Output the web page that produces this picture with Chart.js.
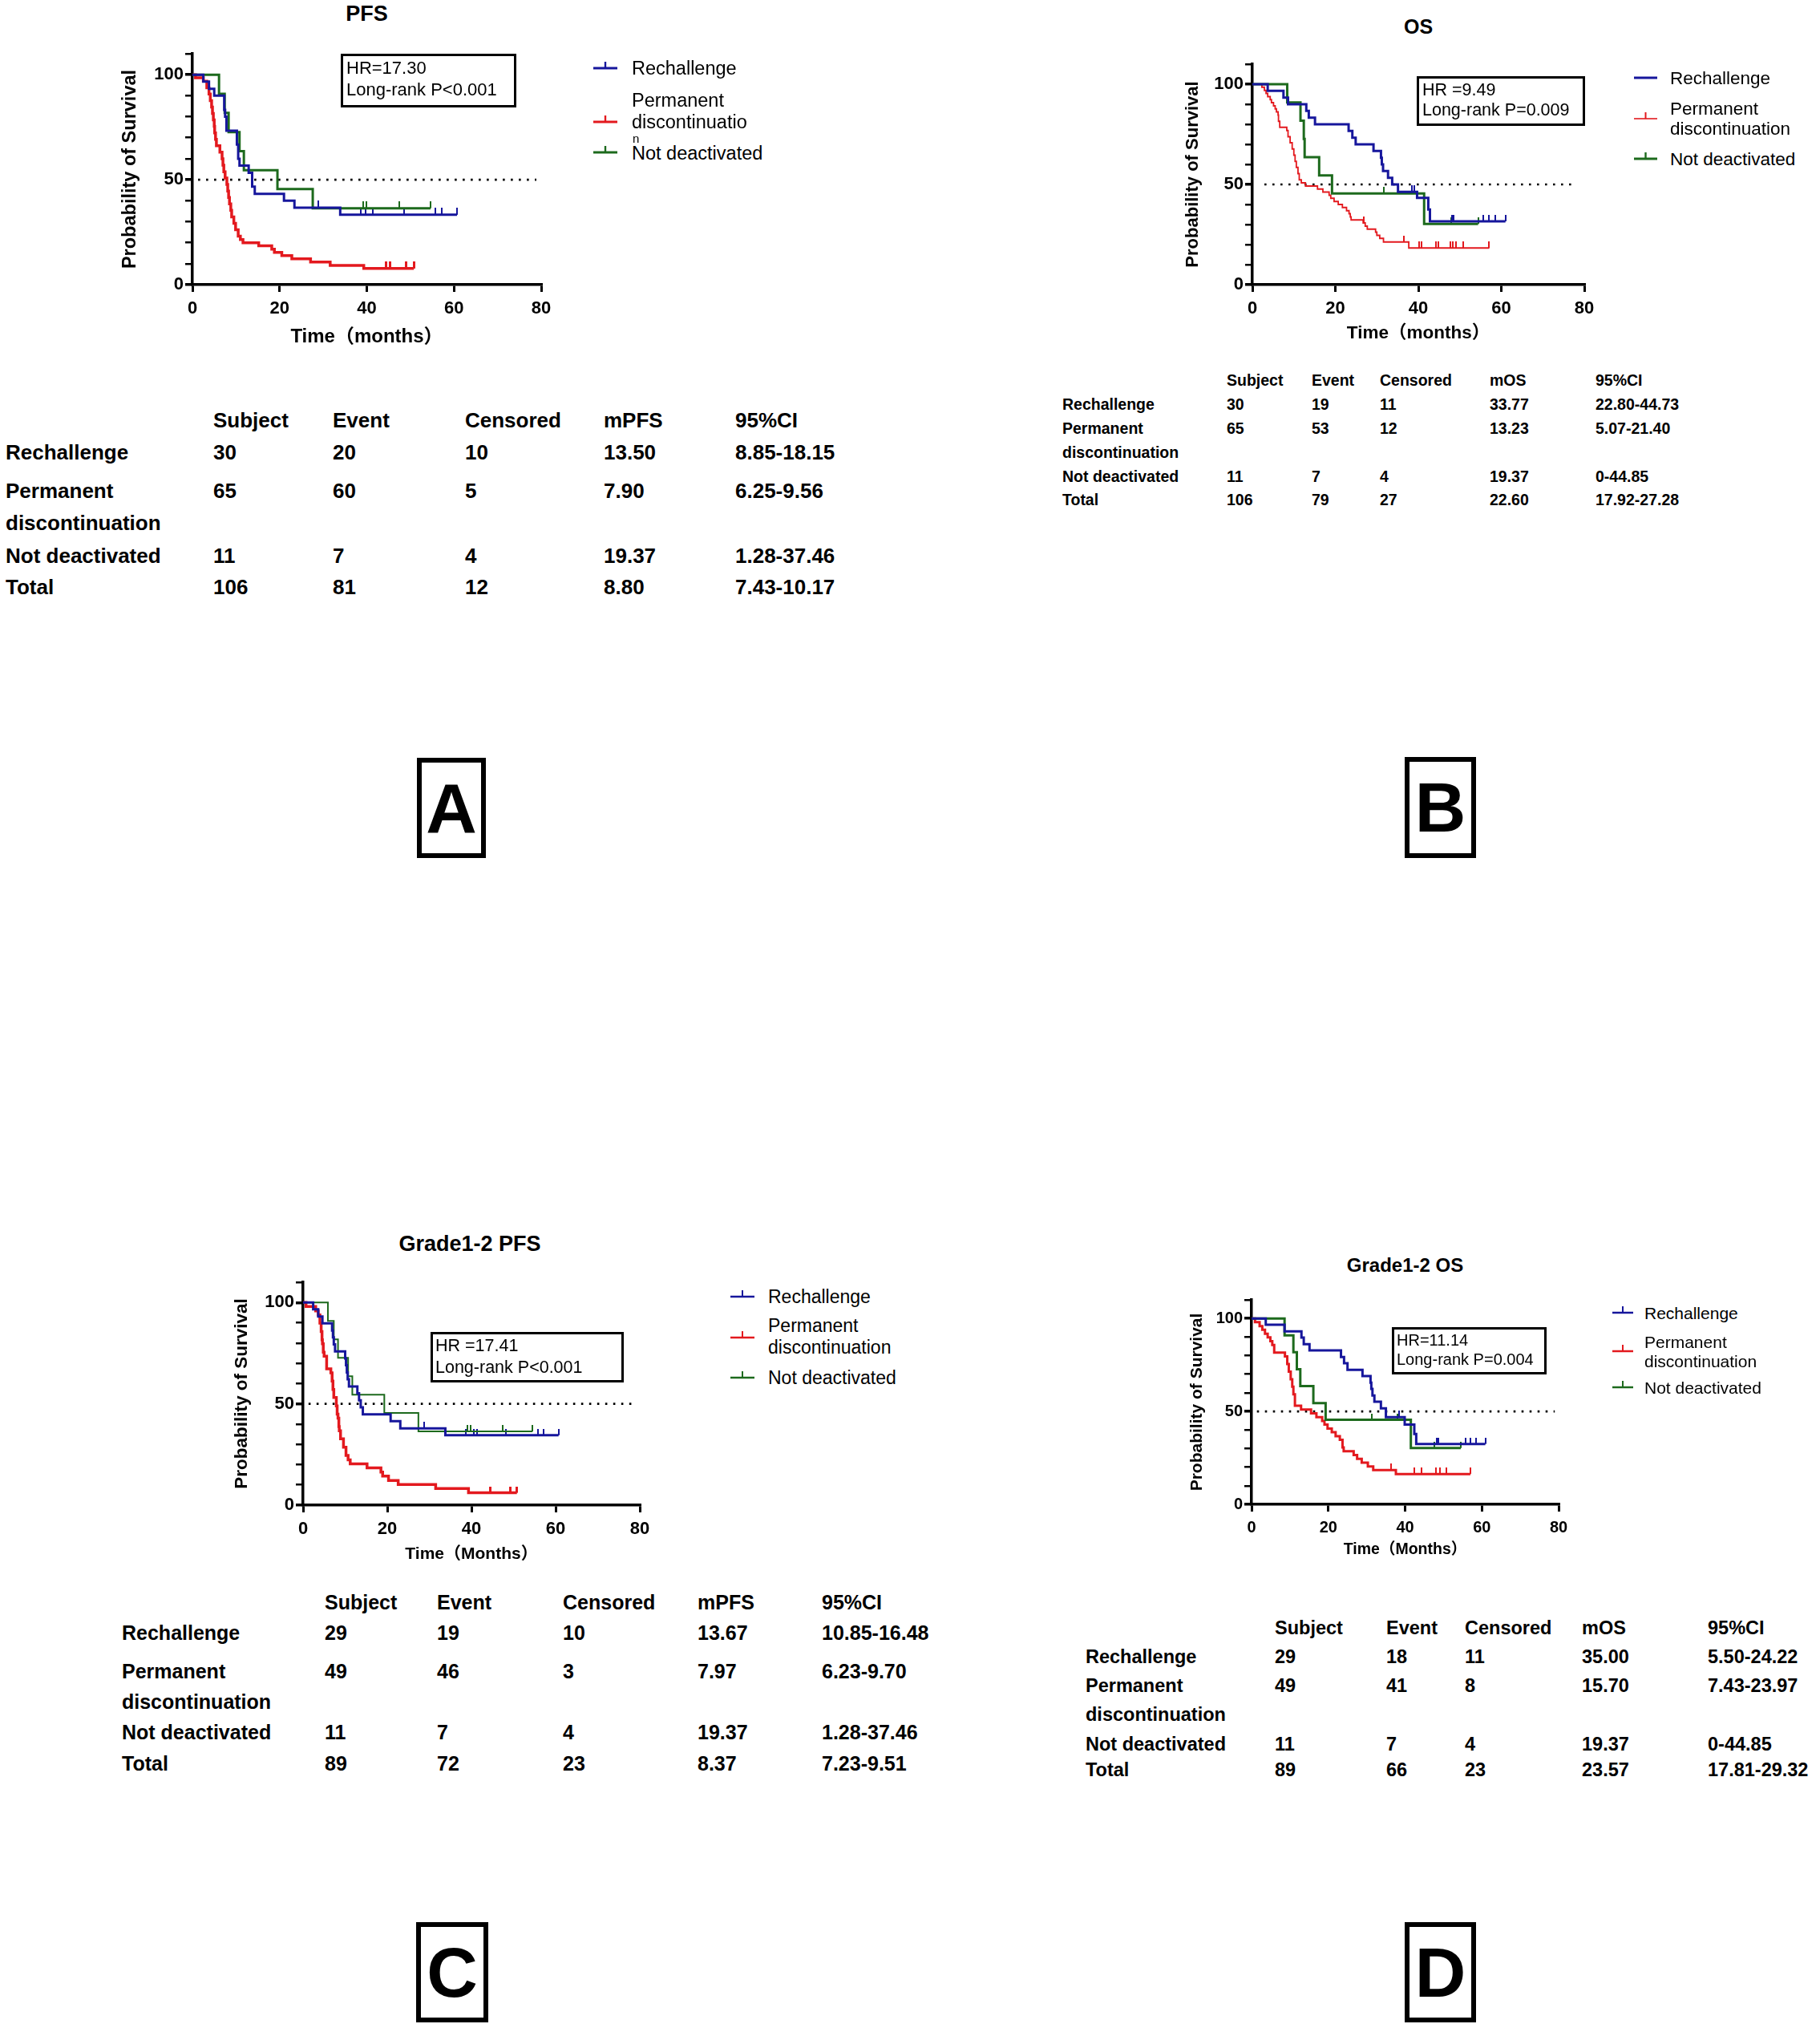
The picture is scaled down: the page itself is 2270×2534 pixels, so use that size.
<html>
<head>
<script src="https://cdn.jsdelivr.net/npm/chart.js@4.4.1/dist/chart.umd.min.js"></script>
<style>
body { margin:0; width:2270px; height:2534px; position:relative; background:#fff; overflow:hidden;
       font-family:"Liberation Sans", Arial, "Noto Sans CJK SC", sans-serif; color:#000; }
.t { position:absolute; white-space:nowrap; }
canvas { position:absolute; }
.hr { position:absolute; border:3px solid #000; box-sizing:border-box; }
.letter { position:absolute; border:6px solid #000; box-sizing:border-box; font-weight:bold; font-size:88px;
          display:flex; align-items:center; justify-content:center; }
</style>
</head>
<body>
<script>
// ---- survival curves: [months, % surviving] ----
var pfsRechallenge = [[0,100],[2.5,96.7],[3.8,93.3],[5.0,90],[7.3,83.3],[7.5,80],[7.8,73.3],[10.2,66.7],[10.5,60],[10.8,56.7],[12.9,53.3],[13.7,46.7],[14.3,43.3],[21.0,40],[23.4,36.7],[33.9,33.3],[60.7,33.3]]
var pfsPermanent = [[0,100],[0.7,98.5],[2.5,96.9],[3.3,93.8],[3.8,90.8],[4.1,87.7],[4.4,84.6],[4.6,81.5],[4.8,78.5],[5.0,75.4],[5.1,72.3],[5.3,69.2],[5.5,66.2],[6.3,63.1],[6.8,60],[7.0,56.9],[7.2,53.8],[7.5,50.8],[7.9,47.7],[8.1,44.6],[8.3,41.5],[8.5,38.5],[8.8,35.4],[9.0,32.3],[9.5,29.2],[9.9,26.2],[10.5,23.1],[11.0,21.5],[11.6,20],[15.2,18.5],[18.2,16.9],[18.8,15.4],[20.5,13.8],[22.8,12.3],[27.1,10.8],[31.6,9.2],[39.3,7.7],[50.8,7.7]]
var pfsNotDeact = [[0,100],[6.1,90.9],[7.4,81.8],[8.3,72.7],[10.8,63.6],[11.8,54.5],[19.5,45.5],[27.6,36.4],[54.6,36.4]]
var pfsRechallengeCens = [28.9, 38.6, 39.8, 41.3, 48.5, 55.8, 57.2, 60.7]
var pfsPermanentCens = [44.4, 45.3, 49.0, 50.8]
var pfsNotDeactCens = [39.1, 39.9, 47.5, 54.6]

var osRechallenge = [[0,100],[3.7,96.7],[7.5,93.3],[8.6,90],[13.0,86.7],[13.6,83.3],[15.1,80],[23.2,76.7],[24.1,73.3],[24.9,70],[29.2,66.7],[31.0,63.3],[31.2,60],[31.5,56.7],[32.7,53.3],[33.7,50],[35.1,46.3],[39.7,43.3],[42.4,37.5],[42.8,31.6],[61.0,31.6]]
var osPermanent = [[0,100],[2.3,98.5],[2.9,96.9],[3.3,95.4],[3.7,93.8],[4.3,92.3],[4.6,90.8],[5.1,89.2],[5.5,87.7],[5.8,86.2],[6.2,84.6],[6.3,81.5],[6.6,78.5],[8.3,76.9],[8.6,73.8],[9.1,70.8],[9.6,67.7],[10.0,64.6],[10.3,61.5],[10.6,58.5],[11.0,55.4],[11.3,52.3],[11.8,50.8],[12.8,49.2],[15.7,47.7],[17.0,46.2],[18.5,44.6],[18.9,43.1],[19.7,41.5],[20.7,40],[21.7,38.5],[22.7,36.9],[23.3,35.4],[23.6,33.8],[23.8,32.3],[26.7,30.8],[27.2,29.2],[27.7,27.7],[29.7,26.2],[30.0,24.6],[30.7,23.1],[31.6,21.3],[37.7,18.3],[57.1,18.3]]
var osNotDeact = [[0,100],[8.4,90.9],[11.6,81.8],[12.4,72.7],[12.6,63.6],[16.1,54.5],[19.2,45.5],[41.4,30.3],[54.4,30.3]]
var osRechallengeCens = [38.5, 39.0, 48.1, 48.5, 55.6, 57.1, 58.5, 61.0]
var osPermanentCens = [26.9, 36.6, 40.2, 40.7, 44.2, 44.8, 47.8, 48.4, 49.1, 50.8, 57.1]
var osNotDeactCens = [31.7, 38.5, 48.0, 54.4]

var g12PfsRechallenge = [[0,100],[2.4,96.6],[3.6,93.1],[4.6,89.7],[6.9,86.2],[7.1,82.8],[7.3,79.3],[7.6,75.9],[10.0,72.4],[10.2,69],[10.4,65.5],[10.6,62.1],[10.9,58.6],[12.9,55.2],[13.3,51.7],[13.7,48.3],[14.2,44.8],[20.8,41.4],[23.1,37.9],[33.8,34.5],[60.7,34.5]]
var g12PfsPermanent = [[0,100],[0.7,98],[3.0,95.9],[3.6,93.9],[4.0,89.8],[4.3,85.7],[4.5,81.6],[4.6,79.6],[4.8,75.5],[5.0,73.5],[5.6,67.3],[6.6,65.3],[6.9,61.2],[7.1,57.1],[7.3,53.1],[7.9,49],[8.1,44.9],[8.3,42.9],[8.5,38.8],[8.6,36.7],[8.9,32.7],[9.6,28.6],[10.2,24.5],[10.7,22.4],[11.2,20.4],[15.2,18.4],[18.5,16.3],[18.9,14.3],[20.3,12.2],[22.6,10.2],[31.5,8.2],[39.3,6.1],[50.8,6.1]]
var g12PfsNotDeact = [[0,100],[5.9,90.9],[7.3,81.8],[8.3,72.7],[10.7,63.6],[11.7,54.5],[19.3,45.5],[27.4,36.4],[54.5,36.4]]
var g12PfsRechallengeCens = [28.8, 38.6, 40.6, 41.4, 48.2, 55.8, 57.1, 60.7]
var g12PfsPermanentCens = [44.4, 49.2, 50.8]
var g12PfsNotDeactCens = [39.1, 39.9, 47.5, 54.5]

var g12OsRechallenge = [[0,100],[3.7,96.6],[8.6,93.1],[13.0,89.7],[13.6,86.2],[15.1,82.8],[23.3,79.3],[24.1,75.9],[25.0,72.4],[28.9,69],[31.0,65.5],[31.2,62.1],[31.5,58.6],[32.0,55.2],[33.7,51.7],[35.0,46.9],[39.9,42.9],[42.4,37.8],[42.9,32.5],[60.9,32.5]]
var g12OsPermanent = [[0,100],[0.9,98],[2.1,95.9],[2.8,93.9],[3.5,91.8],[4.2,89.8],[4.9,87.8],[5.4,85.7],[5.9,81.6],[8.7,79.6],[9.3,75.5],[9.7,71.4],[10.2,67.3],[10.6,63.3],[10.9,59.2],[11.3,53.1],[12.9,51],[15.5,49],[16.9,46.9],[18.4,44.9],[19.0,42.9],[19.8,40.8],[20.9,38.8],[21.9,36.7],[23.0,34.7],[23.7,30.6],[24.0,28.6],[26.6,26.5],[27.5,24.5],[28.7,22.4],[30.3,20.4],[31.7,18.4],[37.6,16.3],[57.0,16.3]]
var g12OsNotDeact = [[0,100],[8.6,90.9],[10.9,81.8],[11.8,72.7],[12.7,63.6],[16.1,54.5],[19.3,45.5],[41.5,30.3],[54.5,30.3]]
var g12OsRechallengeCens = [38.5, 48.2, 48.6, 55.7, 57.1, 58.4, 60.9]
var g12OsPermanentCens = [36.4, 42.4, 44.3, 48.0, 49.0, 50.8, 57.0]
var g12OsNotDeactCens = [31.3, 38.0, 47.7, 54.5]

// ---- axes ----
var xTicks = [0, 20, 40, 60, 80]
var yLabelled = [0, 50, 100]
var medianLevel = 50

// ---- summary tables ----
var pfsHeader = ['Subject', 'Event', 'Censored', 'mPFS', '95%CI']
var osHeader = ['Subject', 'Event', 'Censored', 'mOS', '95%CI']
var groupNames = ['Rechallenge', 'Permanent', 'Not deactivated', 'Total']
var tablePfs = [['30','20','10','13.50','8.85-18.15'], ['65','60','5','7.90','6.25-9.56'], ['11','7','4','19.37','1.28-37.46'], ['106','81','12','8.80','7.43-10.17']]
var tableOs = [['30','19','11','33.77','22.80-44.73'], ['65','53','12','13.23','5.07-21.40'], ['11','7','4','19.37','0-44.85'], ['106','79','27','22.60','17.92-27.28']]
var tableG12Pfs = [['29','19','10','13.67','10.85-16.48'], ['49','46','3','7.97','6.23-9.70'], ['11','7','4','19.37','1.28-37.46'], ['89','72','23','8.37','7.23-9.51']]
var tableG12Os = [['29','18','11','35.00','5.50-24.22'], ['49','41','8','15.70','7.43-23.97'], ['11','7','4','19.37','0-44.85'], ['89','66','23','23.57','17.81-29.32']]

var BLUE = '#16169c', RED = '#e3191e', GREEN = '#1d6a1d'
var FONT = '"Liberation Sans", Arial, "Noto Sans CJK SC", sans-serif'

function txt(s, x, yc, size, weight, align) {
  var d = document.createElement('div')
  d.className = 't'
  d.textContent = s
  var lh = Math.round(size * 1.2)
  d.style.left = x + 'px'
  d.style.top = (yc - lh / 2) + 'px'
  d.style.fontSize = size + 'px'
  d.style.lineHeight = lh + 'px'
  d.style.fontWeight = weight || 'normal'
  if (align == 'center') d.style.transform = 'translateX(-50%)'
  document.body.appendChild(d)
  return d
}

// small upward tick used for censored subjects
function censorMark(color, w, h) {
  var c = document.createElement('canvas')
  c.width = w
  c.height = h * 2
  var g = c.getContext('2d')
  g.fillStyle = color
  g.fillRect(0, 0, w, h)
  return c
}

function levelAt(curve, t) {
  var s = curve[0][1]
  curve.forEach(function (p) { if (p[0] <= t) s = p[1] })
  return s
}

function drawPanel(p) {
  var cl = p.yTitleX - 30, ct = p.area.t - 12, cr = p.area.r + 40, cb = p.xTitleY + 22
  var cv = document.createElement('canvas')
  cv.width = cr - cl
  cv.height = cb - ct
  cv.style.left = cl + 'px'
  cv.style.top = ct + 'px'
  document.body.appendChild(cv)

  var yW = p.area.l - cl, xH = cb - p.area.b
  var yPad = 30 - p.yTitleSize * 1.2 / 2
  var xPad = 22 - p.xTitleSize * 1.2 / 2

  var datasets = []
  p.series.forEach(function (s) {
    datasets.push({
      data: s.curve.map(function (q) { return {x: q[0], y: q[1]} }),
      borderColor: s.color, borderWidth: s.width, stepped: true, pointRadius: 0, fill: false
    })
  })
  p.series.forEach(function (s) {
    datasets.push({
      data: s.censor.map(function (t) { return {x: t, y: levelAt(s.curve, t)} }),
      showLine: false, pointStyle: censorMark(s.color, Math.max(2, Math.round(s.width * 0.8)), p.markH),
      pointRadius: 5, borderColor: s.color, backgroundColor: s.color
    })
  })
  datasets.push({
    data: [{x: p.median[0], y: medianLevel}, {x: p.median[1], y: medianLevel}],
    borderColor: '#000', borderWidth: 2.6, borderDash: [2.6, 7.4], pointRadius: 0, fill: false
  })

  new Chart(cv.getContext('2d'), {
    type: 'line',
    data: {datasets: datasets},
    options: {
      responsive: false, animation: false, devicePixelRatio: 1,
      layout: {padding: {top: p.area.t - ct, right: cr - p.area.r, left: 0, bottom: 0}},
      plugins: {legend: {display: false}, tooltip: {enabled: false}},
      scales: {
        x: {
          type: 'linear', min: 0, max: 80,
          afterBuildTicks: function (s) { s.ticks = xTicks.map(function (v) { return {value: v} }) },
          ticks: {color: '#000', font: {family: FONT, size: p.tickSize, weight: 'bold'}, padding: 8, maxRotation: 0, autoSkip: false},
          grid: {drawOnChartArea: false, drawTicks: true, tickLength: 9, color: '#000', lineWidth: 3},
          border: {color: '#000', width: 3.5},
          title: {display: true, text: p.xTitle, color: '#000', font: {family: FONT, size: p.xTitleSize, weight: 'bold'}, padding: {top: 0, bottom: xPad}},
          afterFit: function (s) { s.height = xH; s.paddingLeft = 0; s.paddingRight = 0 }
        },
        y: {
          type: 'linear', min: 0, max: 110,
          ticks: {stepSize: 10, autoSkip: false, color: '#000', font: {family: FONT, size: p.tickSize, weight: 'bold'}, padding: 2,
                  callback: function (v) { return yLabelled.indexOf(v) >= 0 ? String(v) : '' }},
          grid: {drawOnChartArea: false, drawTicks: true, tickLength: 9, color: '#000',
                 lineWidth: function (c) { return c.tick && yLabelled.indexOf(c.tick.value) >= 0 ? 3.5 : 2.5 }},
          border: {color: '#000', width: 3.5},
          title: {display: true, text: 'Probability of Survival', color: '#000', font: {family: FONT, size: p.yTitleSize, weight: 'bold'}, padding: {top: yPad, bottom: 0}},
          afterFit: function (s) { s.width = yW; s.paddingTop = 0; s.paddingBottom = 0 }
        }
      }
    }
  })

  txt(p.title, (p.area.l + p.area.r) / 2 + p.titleDx, p.titleY, p.titleSize, 'bold', 'center')

  var b = document.createElement('div')
  b.className = 'hr'
  b.style.left = p.hr.l + 'px'; b.style.top = p.hr.t + 'px'
  b.style.width = (p.hr.r - p.hr.l) + 'px'; b.style.height = (p.hr.b - p.hr.t) + 'px'
  document.body.appendChild(b)
  txt(p.hr.lines[0], p.hr.tx, p.hr.y1, p.hr.size)
  txt(p.hr.lines[1], p.hr.tx, p.hr.y2, p.hr.size)
}

function legendSymbol(x, y, len, color, width, tick) {
  var ns = 'http://www.w3.org/2000/svg'
  var svg = document.createElementNS(ns, 'svg')
  svg.setAttribute('width', len)
  svg.setAttribute('height', 20)
  svg.style.position = 'absolute'
  svg.style.left = x + 'px'
  svg.style.top = (y - 14) + 'px'
  var l = document.createElementNS(ns, 'line')
  l.setAttribute('x1', 0); l.setAttribute('x2', len); l.setAttribute('y1', 14); l.setAttribute('y2', 14)
  l.setAttribute('stroke', color); l.setAttribute('stroke-width', width)
  svg.appendChild(l)
  if (tick) {
    var t = document.createElementNS(ns, 'line')
    t.setAttribute('x1', len / 2); t.setAttribute('x2', len / 2); t.setAttribute('y1', 6); t.setAttribute('y2', 14)
    t.setAttribute('stroke', color); t.setAttribute('stroke-width', Math.max(2, width * 0.8))
    svg.appendChild(t)
  }
  document.body.appendChild(svg)
}

function drawLegend(g) {
  g.items.forEach(function (it) {
    legendSymbol(g.x, it.sy, g.len, it.color, it.width, it.tick)
    it.lines.forEach(function (ln) { txt(ln[0], g.tx, ln[1], g.size) })
  })
}

function drawTable(head, rows, cols, ys, size) {
  head.forEach(function (h, i) { txt(h, cols[i + 1], ys[0], size, 'bold') })
  var labelRows = [ys[1], ys[2], ys[4], ys[5]]
  groupNames.forEach(function (n, r) {
    txt(n, cols[0], labelRows[r], size, 'bold')
    rows[r].forEach(function (v, i) { txt(v, cols[i + 1], labelRows[r], size, 'bold') })
  })
  txt('discontinuation', cols[0], ys[3], size, 'bold')
}

function letterBox(ch, l, t, w, h) {
  var d = document.createElement('div')
  d.className = 'letter'
  d.textContent = ch
  d.style.left = l + 'px'; d.style.top = t + 'px'
  d.style.width = w + 'px'; d.style.height = h + 'px'
  document.body.appendChild(d)
}

// ---- panel A ----
drawPanel({
  area: {l: 240, r: 675, t: 67, b: 355}, yTitleX: 163, xTitleY: 420,
  tickSize: 22, yTitleSize: 23.5, xTitleSize: 24, xTitle: 'Time（months）', markH: 9,
  title: 'PFS', titleDx: 0, titleY: 17, titleSize: 27, median: [1.3, 78.9],
  hr: {l: 425, t: 67, r: 644, b: 134, tx: 432, y1: 85, y2: 112, size: 22, lines: ['HR=17.30', 'Long-rank P<0.001']},
  series: [
    {curve: pfsRechallenge, censor: pfsRechallengeCens, color: BLUE, width: 3},
    {curve: pfsNotDeact, censor: pfsNotDeactCens, color: GREEN, width: 3},
    {curve: pfsPermanent, censor: pfsPermanentCens, color: RED, width: 3.5}
  ]
})
drawLegend({x: 740, len: 30, tx: 788, size: 23.5, items: [
  {color: BLUE, width: 3, tick: true, sy: 85, lines: [['Rechallenge', 85]]},
  {color: RED, width: 3, tick: true, sy: 152, lines: [['Permanent', 125], ['discontinuatio', 152]]},
  {color: GREEN, width: 3, tick: true, sy: 190, lines: [['Not deactivated', 191]]}
]})
txt('n', 789, 173, 15)

// ---- panel B ----
drawPanel({
  area: {l: 1562, r: 1976, t: 80, b: 355}, yTitleX: 1488, xTitleY: 416,
  tickSize: 22, yTitleSize: 22, xTitleSize: 22.5, xTitle: 'Time（months）', markH: 8,
  title: 'OS', titleDx: 0, titleY: 33, titleSize: 25, median: [2.9, 77.2],
  hr: {l: 1767, t: 95, r: 1977, b: 157, tx: 1774, y1: 112, y2: 137, size: 21.5, lines: ['HR =9.49', 'Long-rank P=0.009']},
  series: [
    {curve: osRechallenge, censor: osRechallengeCens, color: BLUE, width: 3},
    {curve: osNotDeact, censor: osNotDeactCens, color: GREEN, width: 3},
    {curve: osPermanent, censor: osPermanentCens, color: RED, width: 1.8}
  ]
})
drawLegend({x: 2038, len: 29, tx: 2083, size: 22.5, items: [
  {color: BLUE, width: 3, tick: false, sy: 97, lines: [['Rechallenge', 97]]},
  {color: RED, width: 1.6, tick: true, sy: 148, lines: [['Permanent', 135], ['discontinuation', 160]]},
  {color: GREEN, width: 3, tick: true, sy: 198, lines: [['Not deactivated', 198]]}
]})

// ---- panel C ----
drawPanel({
  area: {l: 378, r: 798, t: 1599, b: 1877}, yTitleX: 302, xTitleY: 1938,
  tickSize: 22, yTitleSize: 22.5, xTitleSize: 21, xTitle: 'Time（Months）', markH: 8,
  title: 'Grade1-2 PFS', titleDx: -2, titleY: 1551, titleSize: 27, median: [1.3, 78.9],
  hr: {l: 537, t: 1661, r: 778, b: 1724, tx: 543, y1: 1678, y2: 1705, size: 21.5, lines: ['HR =17.41', 'Long-rank P<0.001']},
  series: [
    {curve: g12PfsRechallenge, censor: g12PfsRechallengeCens, color: BLUE, width: 3},
    {curve: g12PfsNotDeact, censor: g12PfsNotDeactCens, color: GREEN, width: 2},
    {curve: g12PfsPermanent, censor: g12PfsPermanentCens, color: RED, width: 3.5}
  ]
})
drawLegend({x: 911, len: 30, tx: 958, size: 23, items: [
  {color: BLUE, width: 2.5, tick: true, sy: 1617, lines: [['Rechallenge', 1617]]},
  {color: RED, width: 2.5, tick: true, sy: 1668, lines: [['Permanent', 1653], ['discontinuation', 1680]]},
  {color: GREEN, width: 2.5, tick: true, sy: 1718, lines: [['Not deactivated', 1718]]}
]})

// ---- panel D ----
drawPanel({
  area: {l: 1561, r: 1944, t: 1621, b: 1876}, yTitleX: 1493, xTitleY: 1933,
  tickSize: 20, yTitleSize: 21, xTitleSize: 19.5, xTitle: 'Time（Months）', markH: 8,
  title: 'Grade1-2 OS', titleDx: 0, titleY: 1577, titleSize: 24, median: [1.4, 79],
  hr: {l: 1736, t: 1655, r: 1929, b: 1714, tx: 1742, y1: 1671, y2: 1695, size: 20, lines: ['HR=11.14', 'Long-rank P=0.004']},
  series: [
    {curve: g12OsRechallenge, censor: g12OsRechallengeCens, color: BLUE, width: 3},
    {curve: g12OsNotDeact, censor: g12OsNotDeactCens, color: GREEN, width: 3},
    {curve: g12OsPermanent, censor: g12OsPermanentCens, color: RED, width: 3}
  ]
})
drawLegend({x: 2011, len: 26, tx: 2051, size: 21, items: [
  {color: BLUE, width: 2.5, tick: true, sy: 1637, lines: [['Rechallenge', 1637]]},
  {color: RED, width: 2.5, tick: true, sy: 1685, lines: [['Permanent', 1673], ['discontinuation', 1697]]},
  {color: GREEN, width: 2.5, tick: true, sy: 1730, lines: [['Not deactivated', 1730]]}
]})

// ---- tables ----
drawTable(pfsHeader, tablePfs, [7, 266, 415, 580, 753, 917], [524, 564, 612, 652, 693, 732], 26)
drawTable(osHeader, tableOs, [1325, 1530, 1636, 1721, 1858, 1990], [474, 504, 534, 564, 594, 623], 19.5)
drawTable(pfsHeader, tableG12Pfs, [152, 405, 545, 702, 870, 1025], [1998, 2036, 2084, 2122, 2160, 2199], 25)
drawTable(osHeader, tableG12Os, [1354, 1590, 1729, 1827, 1973, 2130], [2030, 2066, 2102, 2138, 2175, 2207], 23.5)

letterBox('A', 520, 945, 86, 125)
letterBox('B', 1752, 944, 89, 126)
letterBox('C', 519, 2397, 90, 125)
letterBox('D', 1752, 2397, 89, 125)
</script>
</body>
</html>
